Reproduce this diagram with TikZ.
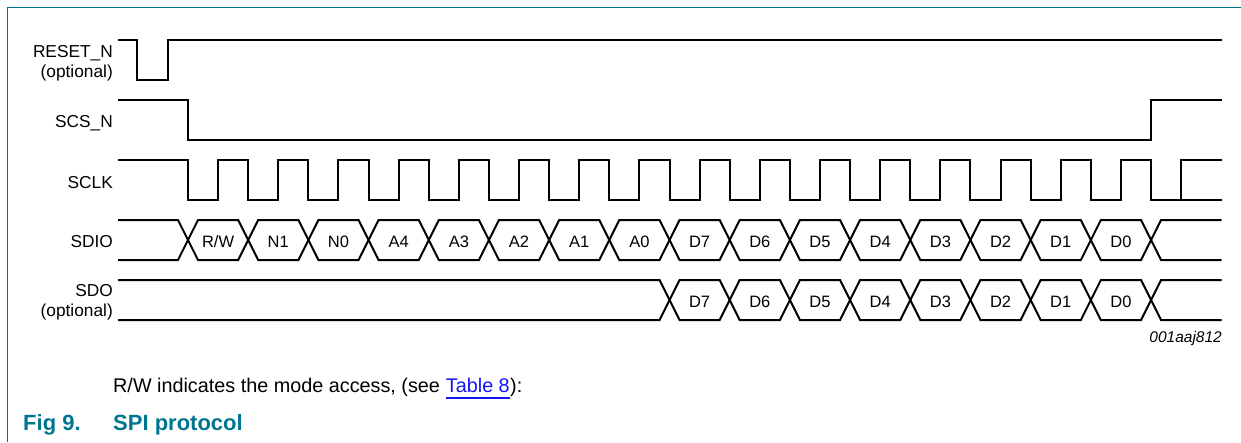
\documentclass[tikz,border=0pt]{standalone}
\usepackage{fontspec}
\setmainfont{Liberation Sans}
\definecolor{nxpteal}{RGB}{0,117,143}
\definecolor{linkblue}{RGB}{20,20,245}

\begin{document}
\begin{tikzpicture}[x=1pt,y=-1pt,
  wave/.style={line width=2pt,black},
  frame/.style={line width=1pt,nxpteal},
  sig/.style={anchor=base east,inner sep=0pt,font=\fontsize{17.3}{20}\selectfont},
  cell/.style={anchor=base,inner sep=0pt,font=\fontsize{16.5}{19}\selectfont},
  note/.style={anchor=base west,inner sep=0pt,font=\fontsize{19.8}{23}\selectfont},
  title/.style={anchor=base west,inner sep=0pt,text=nxpteal,font=\fontsize{22}{26}\selectfont\bfseries}]
\def\per{60.19}
\def\xa{118}
\def\xe{1221.5}
\def\xf{188}
\def\dx{10}
\useasboundingbox (0,0) rectangle (1241,442);
  \draw[frame] (1241,7) -- (7,7) -- (7,442);
  % signal names
  \node[sig] (reset)    at (113,57)  {RESET\_N};
  \node[sig] (resetopt) at (113,77)  {(optional)};
  \node[sig] (scs)      at (113,127) {SCS\_N};
  \node[sig] (sclk)     at (113,188) {SCLK};
  \node[sig] (sdio)     at (113,247) {SDIO};
  \node[sig] (sdo)      at (113,296) {SDO};
  \node[sig] (sdoopt)   at (113,316) {(optional)};
  % RESET_N and SCS_N
  \draw[wave] (\xa,40) -- (137,40) -- (137,80) -- (168,80) -- (168,40) -- (\xe,40);
  \draw[wave] (\xa,100) -- (\xf,100) -- (\xf,140) -- ({\xf+16*\per},140) -- ({\xf+16*\per},100) -- (\xe,100);
  % SCLK
  \draw[wave] (\xa,160) foreach \k in {0,1,...,16}
    { -- ({\xf+\k*\per},160) -- ({\xf+\k*\per},200) -- ({\xf+(\k+0.5)*\per},200) -- ({\xf+(\k+0.5)*\per},160) }
    -- (\xe,160);
  \draw[wave] ({\xf+16.5*\per},200) -- (\xe,200);
  % SDIO
  \draw[wave] (\xa,220) -- ({\xf-\dx},220) -- (\xf,240) -- ({\xf-\dx},260) -- (\xa,260);
  \foreach \lab [count=\k from 0] in {{R/W},N1,N0,A4,A3,A2,A1,A0,D7,D6,D5,D4,D3,D2,D1,D0}
    {
     \pgfmathsetmacro{\ca}{\xf+\k*\per}
     \pgfmathsetmacro{\cb}{\xf+(\k+1)*\per}
     \draw[wave] (\ca,240) -- ({\ca+\dx},220) -- ({\cb-\dx},220) -- (\cb,240) -- ({\cb-\dx},260) -- ({\ca+\dx},260) -- cycle;
     \node[cell] (sdio\k) at ({(\ca+\cb)/2},247) {\lab};
    }
  \draw[wave] (\xe,220) -- ({\xf+16*\per+\dx},220) -- ({\xf+16*\per},240) -- ({\xf+16*\per+\dx},260) -- (\xe,260);
  % SDO
  \draw[wave] (\xa,280) -- ({\xf+8*\per-\dx},280) -- ({\xf+8*\per},300) -- ({\xf+8*\per-\dx},320) -- (\xa,320);
  \foreach \lab [count=\k from 8] in {D7,D6,D5,D4,D3,D2,D1,D0}
    {
     \pgfmathsetmacro{\ca}{\xf+\k*\per}
     \pgfmathsetmacro{\cb}{\xf+(\k+1)*\per}
     \draw[wave] (\ca,300) -- ({\ca+\dx},280) -- ({\cb-\dx},280) -- (\cb,300) -- ({\cb-\dx},320) -- ({\ca+\dx},320) -- cycle;
     \node[cell] (sdo\k) at ({(\ca+\cb)/2},307) {\lab};
    }
  \draw[wave] (\xe,280) -- ({\xf+16*\per+\dx},280) -- ({\xf+16*\per},300) -- ({\xf+16*\per+\dx},320) -- (\xe,320);
  % texts below
  \node[anchor=base east,inner sep=0pt,font=\fontsize{15.5}{18}\selectfont\itshape] (code) at (1222,342) {001aaj812};
  \node[note] (note) at (113,392) {R/W indicates the mode access, (see};
  \node[note,text=linkblue] (tbl) at ([xshift=5.5pt]note.base east) {Table 8};
  \node[note] (close) at (tbl.base east) {):};
  \draw[linkblue,line width=1.5pt] ([yshift=-5.8pt]tbl.base west) -- ([yshift=-5.8pt]tbl.base east);
  \node[title] (fignum) at (23,430) {Fig 9.};
  \node[title] (figtitle) at (113,430) {SPI protocol};
\end{tikzpicture}
\end{document}
